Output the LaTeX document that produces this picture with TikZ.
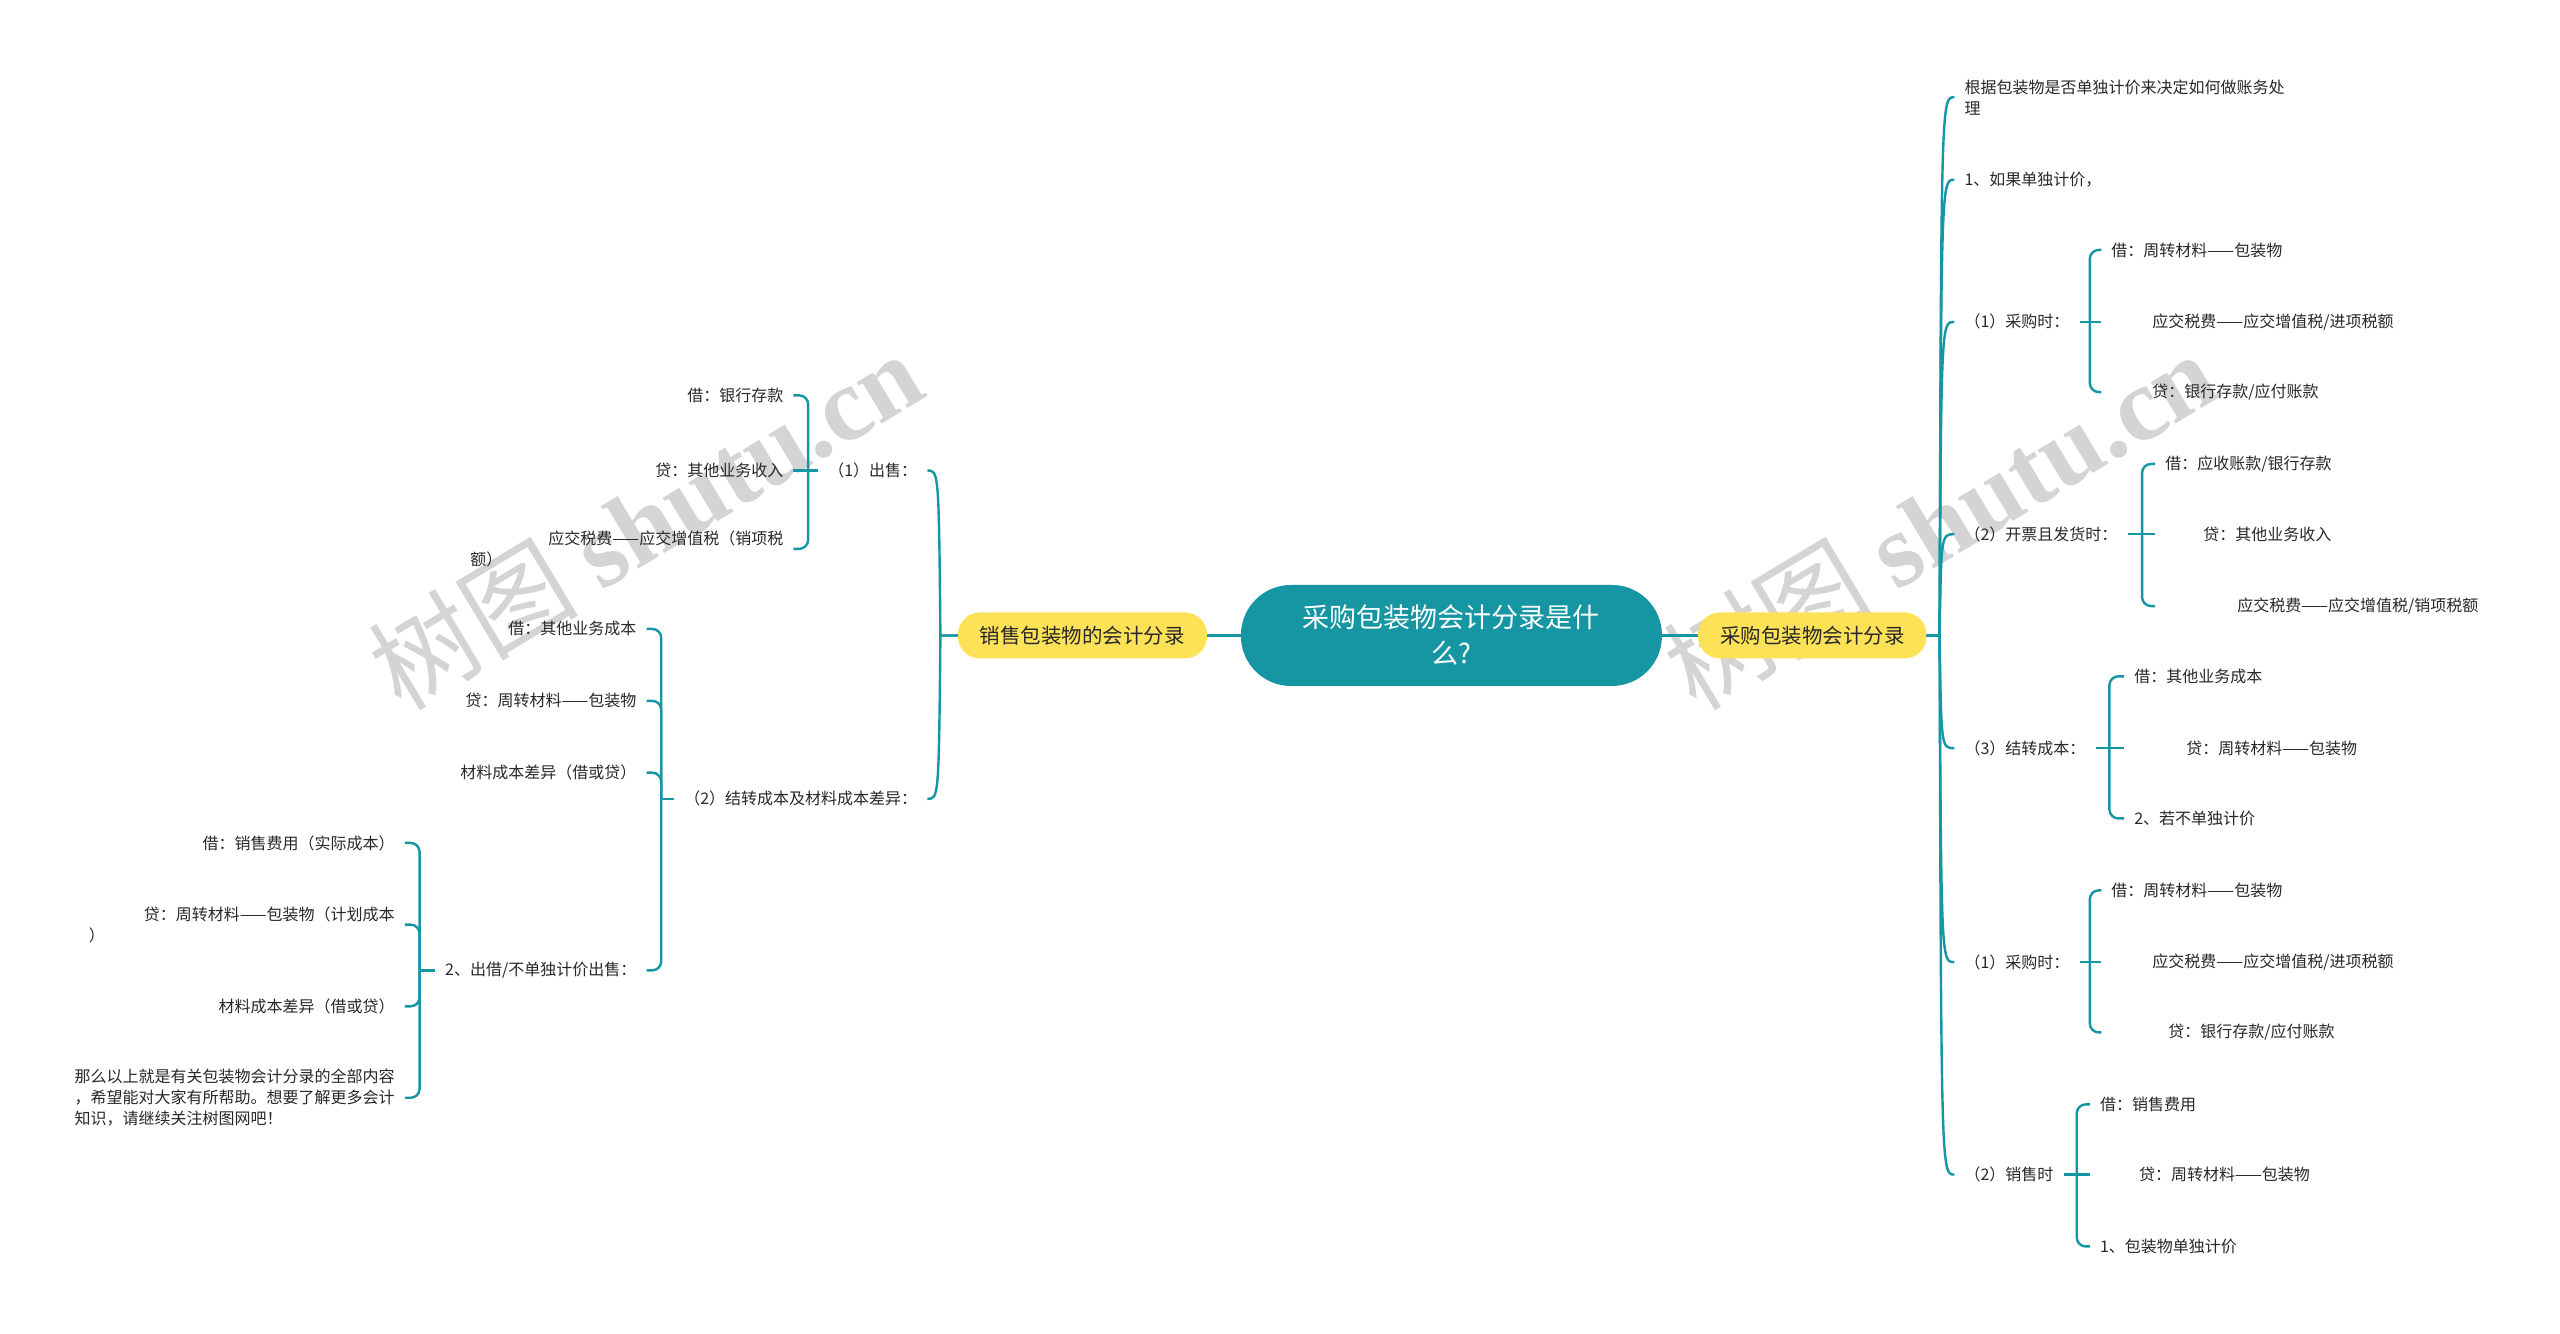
\documentclass[tikz,border=0pt]{standalone}
\usepackage{fontspec}
\setmainfont{Noto Sans CJK SC}
\newfontfamily\wmcjk{Noto Sans CJK SC}
\newfontfamily\wmlat{Liberation Serif}
\definecolor{tealc}{RGB}{22,150,163}
\definecolor{yelc}{RGB}{253,226,88}
\definecolor{wmc}{RGB}{212,212,212}
\definecolor{txtc}{RGB}{40,40,40}
\pgfdeclarelayer{bglayer}
\pgfdeclarelayer{wmlayer}
\pgfsetlayers{bglayer,wmlayer,main}
\begin{document}
\begin{tikzpicture}[x=1.63265pt,y=-1.63358pt,
  mainconn/.style={draw=tealc, line width=2.4pt},
  conn/.style={draw=tealc, line width=2.4pt, rounded corners=9pt},
  txt/.style={font=\fontsize{16}{21}\selectfont, inner xsep=10pt, inner ysep=3pt, align=left, text=txtc},
  yelbox/.style={fill=yelc, rounded corners=22pt, minimum height=46pt, inner xsep=22pt, font=\fontsize{20.5}{24}\selectfont, text=txtc},
  rootbox/.style={fill=tealc, rounded corners=50pt, minimum height=101pt, minimum width=421pt, align=center, font=\fontsize{27}{36}\selectfont, text=white},
  wmark/.style={text=wmc, inner sep=0pt}]
\begin{pgfonlayer}{bglayer}
\fill[white] (0,0) rectangle (1568,816);
\node[rootbox] (C) at (889,389) {采购包装物会计分录是什\\么?};
\end{pgfonlayer}
\useasboundingbox (0,0) rectangle (1568,816);

% watermarks
\begin{pgfonlayer}{wmlayer}
\node[wmark,rotate=31] (W1) at (395,318) {\wmcjk\fontsize{105}{105}\selectfont 树图 \wmlat\bfseries shutu.cn};
\node[wmark,rotate=31] (W2) at (1188,318) {\wmcjk\fontsize{105}{105}\selectfont 树图 \wmlat\bfseries shutu.cn};
\end{pgfonlayer}

% main branches
\node[yelbox] (RY) at (1110,389) {采购包装物会计分录};
\node[yelbox] (LY) at (663,389) {销售包装物的会计分录};
\draw[mainconn] (C.east) -- (RY.west);
\draw[mainconn] (C.west) -- (LY.east);

% right side children
\node[txt,anchor=west] (R1) at (1197,59.5) {根据包装物是否单独计价来决定如何做账务处\\理};
\node[txt,anchor=west] (R2) at (1197,110) {1、如果单独计价，};
\node[txt,anchor=west] (R3) at (1197,197) {（1）采购时：};
\node[txt,anchor=west] (R4) at (1197,327) {（2）开票且发货时：};
\node[txt,anchor=west] (R5) at (1197,458) {（3）结转成本：};
\node[txt,anchor=west] (R6) at (1197,589) {（1）采购时：};
\node[txt,anchor=west] (R7) at (1197,719) {（2）销售时};
\foreach \n/\y in {R1/59.5,R2/110,R3/197,R4/327,R5/458,R6/589,R7/719}{
  \draw[mainconn] (RY.east) -- (1188,389) .. controls (1189,\y) .. (\n.west);
}

\node[txt,anchor=west] (R31) at (1287,153) {借：周转材料——包装物};
\node[txt,anchor=west] (R32) at (1287,197) {\hspace*{41pt}应交税费——应交增值税/进项税额};
\node[txt,anchor=west] (R33) at (1287,240) {\hspace*{41pt}贷：银行存款/应付账款};
\draw[conn] (R3.east) -- (R32.west);
\draw[conn] (1280,197) |- (R31.west);
\draw[conn] (1280,197) |- (R33.west);

\node[txt,anchor=west] (R41) at (1320,284) {借：应收账款/银行存款};
\node[txt,anchor=west] (R42) at (1320,327) {\hspace*{38pt}贷：其他业务收入};
\node[txt,anchor=west] (R43) at (1320,371) {\hspace*{72pt}应交税费——应交增值税/销项税额};
\draw[conn] (R4.east) -- (R42.west);
\draw[conn] (1312,327) |- (R41.west);
\draw[conn] (1312,327) |- (R43.west);

\node[txt,anchor=west] (R51) at (1301,414) {借：其他业务成本};
\node[txt,anchor=west] (R52) at (1301,458) {\hspace*{52pt}贷：周转材料——包装物};
\node[txt,anchor=west] (R53) at (1301,501) {2、若不单独计价};
\draw[conn] (R5.east) -- (R52.west);
\draw[conn] (1292,458) |- (R51.west);
\draw[conn] (1292,458) |- (R53.west);

\node[txt,anchor=west] (R61) at (1287,545) {借：周转材料——包装物};
\node[txt,anchor=west] (R62) at (1287,589) {\hspace*{41pt}应交税费——应交增值税/进项税额};
\node[txt,anchor=west] (R63) at (1287,632) {\hspace*{57pt}贷：银行存款/应付账款};
\draw[conn] (R6.east) -- (R62.west);
\draw[conn] (1280,589) |- (R61.west);
\draw[conn] (1280,589) |- (R63.west);

\node[txt,anchor=west] (R71) at (1280,676) {借：销售费用};
\node[txt,anchor=west] (R72) at (1280,719) {\hspace*{39pt}贷：周转材料——包装物};
\node[txt,anchor=west] (R73) at (1280,763) {1、包装物单独计价};
\draw[conn] (R7.east) -- (R72.west);
\draw[conn] (1272,719) |- (R71.west);
\draw[conn] (1272,719) |- (R73.west);

% left side children
\node[txt,anchor=east] (L1) at (568,288) {（1）出售：};
\node[txt,anchor=east] (L2) at (568,489) {（2）结转成本及材料成本差异：};
\foreach \n/\y in {L1/288,L2/489}{
  \draw[mainconn] (LY.west) -- (576,389) .. controls (575,\y) .. (\n.east);
}

\node[txt,anchor=east] (L11) at (486,242) {借：银行存款};
\node[txt,anchor=east] (L12) at (486,288) {贷：其他业务收入};
\node[txt,anchor=east] (L13) at (486,336) {\hspace*{78pt}应交税费——应交增值税（销项税\\额）};
\draw[conn] (L1.west) -- (L12.east);
\draw[conn] (495,288) |- (L11.east);
\draw[conn] (495,288) |- (L13.east);

\node[txt,anchor=east] (L21) at (396,385) {借：其他业务成本};
\node[txt,anchor=east] (L22) at (396,429) {贷：周转材料——包装物};
\node[txt,anchor=east] (L23) at (396,473) {材料成本差异（借或贷）};
\node[txt,anchor=east] (L24) at (396,594) {2、出借/不单独计价出售：};
\draw[conn] (L2.west) -- (405,489);
\foreach \n in {L21,L22,L23,L24}{
  \draw[conn] (405,489) |- (\n.east);
}

\node[txt,anchor=east] (L241) at (248,516) {借：销售费用（实际成本）};
\node[txt,anchor=east] (L242) at (248,566) {\hspace*{55pt}贷：周转材料——包装物（计划成本\\）};
\node[txt,anchor=east] (L243) at (248,616) {材料成本差异（借或贷）};
\node[txt,anchor=east] (L244) at (248,672) {那么以上就是有关包装物会计分录的全部内容\\，希望能对大家有所帮助。想要了解更多会计\\知识，请继续关注树图网吧！};
\draw[conn] (L24.west) -- (257,594);
\foreach \n in {L241,L242,L243,L244}{
  \draw[conn] (257,594) |- (\n.east);
}
\end{tikzpicture}
\end{document}
